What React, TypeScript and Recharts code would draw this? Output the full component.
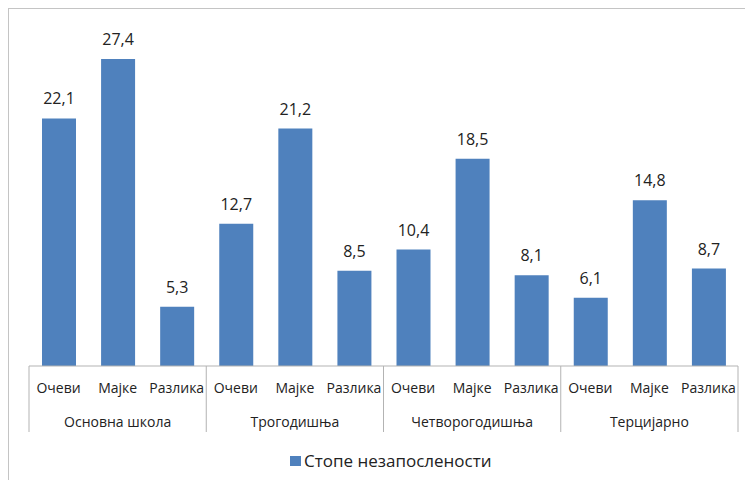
import React from "react";
import { BarChart, Bar, XAxis, YAxis, LabelList, Legend } from "recharts";

const groups = ["Основна школа", "Трогодишња", "Четворогодишња", "Терцијарно"];
const subs = ["Очеви", "Мајке", "Разлика"];
const rates = [22.1, 27.4, 5.3, 12.7, 21.2, 8.5, 10.4, 18.5, 8.1, 6.1, 14.8, 8.7];
const seriesName = "Стопе незапослености";

const data = rates.map((v, i) => ({
  sub: subs[i % 3],
  group: groups[Math.floor(i / 3)],
  value: v,
}));

const W = 744;
const H = 471;
// bottom margin leaves room for the legend (which also reserves its own height)
const margin = { top: 21, right: 15, left: 20, bottom: 21 };
const bandWidth = (W - margin.left - margin.right) / data.length;
const FONT = "'Open Sans', sans-serif";
const TEXT = "#222";
const LINE = "#b3b3b3";
const BLUE = "#4f81bd";

function AxisTick(props: any) {
  const { x, y, payload, index } = props;
  const half = bandWidth / 2;
  return (
    <g>
      <text x={x} y={y + 27} textAnchor="middle" fontSize={14} fill={TEXT} fontFamily={FONT}>
        {payload.value}
      </text>
      {index % 3 === 1 && (
        <text x={x} y={y + 61} textAnchor="middle" fontSize={14} fill={TEXT} fontFamily={FONT}>
          {groups[Math.floor(index / 3)]}
        </text>
      )}
      {index % 3 === 0 && <line x1={x - half} x2={x - half} y1={y} y2={y + 66} stroke={LINE} />}
      {index === data.length - 1 && (
        <line x1={x + half} x2={x + half} y1={y} y2={y + 66} stroke={LINE} />
      )}
    </g>
  );
}

function LegendContent() {
  return (
    <div style={{ display: "flex", alignItems: "center", fontFamily: FONT, fontSize: 17, color: TEXT }}>
      <span style={{ width: 11, height: 10, background: BLUE, display: "inline-block", marginRight: 3 }} />
      <span>{seriesName}</span>
    </div>
  );
}

export default function App() {
  return (
    <div
      style={{
        borderTop: "1px solid #c4c4c4",
        borderLeft: "1px solid #c4c4c4",
        width: W,
        height: H,
        overflow: "hidden",
      }}
    >
      <BarChart width={W} height={H} data={data} margin={margin}>
        <XAxis
          dataKey="sub"
          interval={0}
          height={70}
          tickSize={0}
          tickMargin={0}
          axisLine={{ stroke: LINE }}
          tickLine={false}
          tick={<AxisTick />}
        />
        <YAxis hide domain={[0, 30]} />
        <Legend
          content={<LegendContent />}
          wrapperStyle={{ position: "absolute", left: 281, top: 440, width: "auto" }}
        />
        <Bar dataKey="value" name={seriesName} fill={BLUE} barSize={34} isAnimationActive={false}>
          <LabelList
            dataKey="value"
            position="top"
            offset={14}
            fontSize={16}
            fill={TEXT}
            fontFamily={FONT}
            formatter={(v: any) => String(v).replace(".", ",")}
          />
        </Bar>
      </BarChart>
    </div>
  );
}
